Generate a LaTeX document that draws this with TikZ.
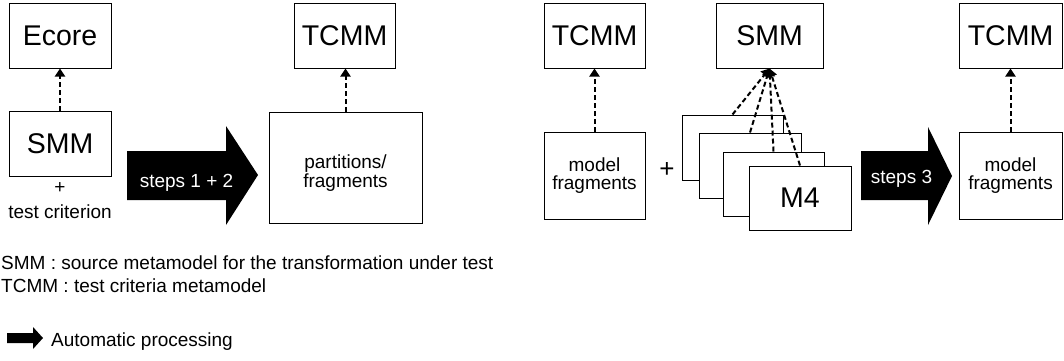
\documentclass[tikz,border=0pt]{standalone}
\usepackage{fontspec}
\setmainfont{Liberation Sans}
\usetikzlibrary{arrows.meta,calc}
\begin{document}
\begin{tikzpicture}[x=1pt,y=-1pt,
  box/.style={draw,line width=1pt,fill=white,inner sep=0pt},
  big/.style={font=\fontsize{28.5}{30}\selectfont},
  txt/.style={font=\fontsize{19}{17.5}\selectfont,align=center,inner sep=0pt},
  dep/.style={draw,line width=2pt,dash pattern=on 5pt off 3pt,-{Triangle[width=10pt,length=8pt]}},
  blk/.style={fill=black}]
\useasboundingbox (0,0) rectangle (1064,360);

% ---- part 1 ----
\node[box,big,minimum width=102,minimum height=65] (ecore) at (60,35.5) {Ecore};
\node[box,big,minimum width=102,minimum height=65] (smm1) at (60,143.5) {SMM};
\node[txt] (plus1) at (60,188) {+};
\node[txt] (crit) at (60,212) {test criterion};
\draw[dep] (smm1.north) -- (ecore.south);

\fill[blk] (127,151) -- (226,151) -- (226,126) -- (258,175) -- (226,225) -- (226,200) -- (127,200) -- cycle;
\node[txt,text=white,anchor=base] (s12) at (186.5,187) {steps 1 + 2};

\node[box,big,minimum width=101,minimum height=65] (tcmm1) at (344.5,35.5) {TCMM};
\node[box,minimum width=153,minimum height=111] (part) at (345.5,167.5) {};
\node[txt] (parttxt) at (345.5,173) {partitions/\\fragments};
\draw[dep] (part.north) -- (part.north |- tcmm1.south);

% ---- part 2 ----
\node[box,big,minimum width=101,minimum height=65] (tcmm2) at (594.5,35.5) {TCMM};
\node[box,txt,minimum width=101,minimum height=87] (mf1) at (594.5,175.5) {model\\fragments};
\draw[dep] (mf1.north) -- (mf1.north |- tcmm2.south);
\node[font=\fontsize{26}{28}\selectfont,inner sep=0pt] (plus2) at (667,170) {+};

\node[box,big,minimum width=107,minimum height=65] (smm2) at (769.5,35.5) {SMM};
\node[box,minimum width=101,minimum height=65] (m1) at (732.5,147.5) {};
\node[box,minimum width=102,minimum height=65] (m2) at (750,165.5) {};
\node[box,minimum width=101,minimum height=64] (m3) at (773.5,184) {};
\node[box,big,minimum width=102,minimum height=64] (m4) at (800,198) {M4};
\draw[dep] (m1.north) -- (smm2.south);
\draw[dep] (m2.north) -- (smm2.south);
\draw[dep] (m3.north) -- (smm2.south);
\draw[dep] (m4.north) -- (smm2.south);

\fill[blk] (861,151) -- (928,151) -- (928,127) -- (952,176) -- (928,225) -- (928,200) -- (861,200) -- cycle;
\node[txt,text=white,anchor=base] (s3) at (901.5,183) {steps 3};

\node[box,big,minimum width=103,minimum height=65] (tcmm3) at (1010.5,35.5) {TCMM};
\node[box,txt,minimum width=103,minimum height=87] (mf3) at (1010.5,175.5) {model\\fragments};
\draw[dep] (mf3.north) -- (mf3.north |- tcmm3.south);

% ---- legend ----
\node[txt,anchor=base west] (leg1) at (1,269) {SMM : source metamodel for the transformation under test};
\node[txt,anchor=base west] (leg2) at (1,292) {TCMM : test criteria metamodel};
\fill[blk] (7,333) -- (33,333) -- (33,327) -- (43,338) -- (33,349) -- (33,343) -- (7,343) -- cycle;
\node[txt,anchor=base west] (leg3) at (51,346) {Automatic processing};
\end{tikzpicture}
\end{document}
